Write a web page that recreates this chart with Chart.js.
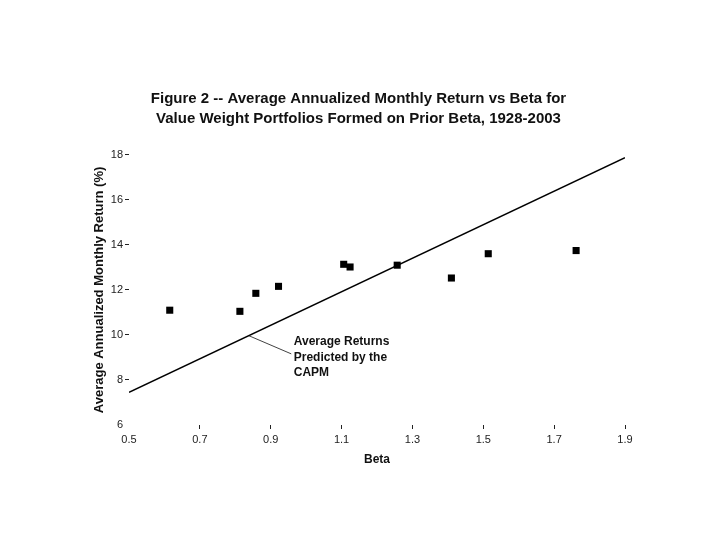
<!DOCTYPE html>
<html>
<head>
<meta charset="utf-8">
<script src="https://cdn.jsdelivr.net/npm/chart.js@4"></script>
<style>
  html, body { margin: 0; padding: 0; background: #fff; }
  #wrap { width: 720px; height: 540px; }
</style>
</head>
<body>
<div id="wrap"><canvas id="betaChart" width="720" height="540"></canvas></div>
<script>
// portfolio betas and average annualized monthly returns (%)
const betas = [0.615, 0.813, 0.858, 0.922, 1.106, 1.124, 1.257, 1.41, 1.514, 1.762];
const returns = [11.1, 11.05, 11.85, 12.16, 13.14, 13.02, 13.1, 12.53, 13.61, 13.75];

// CAPM line end points
const capmBetas = [0.5, 1.9];
const capmReturns = [7.45, 17.88];

const xTicks = [0.5, 0.7, 0.9, 1.1, 1.3, 1.5, 1.7, 1.9];
const yTicks = [6, 8, 10, 12, 14, 16, 18];

const titleLines = [
  "Figure 2 -- Average Annualized Monthly Return vs Beta for",
  "Value Weight Portfolios Formed on Prior Beta, 1928-2003"
];

// annotation for the CAPM line
const noteLines = ["Average Returns", "Predicted by the", "CAPM"];
const notePointFrom = [0.838, 9.97];
const notePointTo = [0.958, 9.16];
const noteAnchor = [0.965, 9.69];

const FONT = "'Liberation Sans', Arial, sans-serif";

const noteLabel = {
  id: "noteLabel",
  afterDatasetsDraw(chart) {
    const { ctx, scales: { x, y } } = chart;
    ctx.save();
    ctx.strokeStyle = "#111";
    ctx.lineWidth = 0.8;
    ctx.beginPath();
    ctx.moveTo(x.getPixelForValue(notePointFrom[0]), y.getPixelForValue(notePointFrom[1]));
    ctx.lineTo(x.getPixelForValue(notePointTo[0]), y.getPixelForValue(notePointTo[1]));
    ctx.stroke();

    ctx.fillStyle = "#111";
    ctx.font = "bold 12px " + FONT;
    ctx.textBaseline = "middle";
    const left = x.getPixelForValue(noteAnchor[0]);
    const top = y.getPixelForValue(noteAnchor[1]);
    noteLines.forEach((line, i) => {
      ctx.fillText(line, left, top + i * 15.5);
    });
    ctx.restore();
  }
};

const tickColor = (c) => (c.index === 0 ? "rgba(0,0,0,0)" : "#222");

new Chart(document.getElementById("betaChart"), {
  type: "scatter",
  data: {
    datasets: [
      {
        label: "Portfolios",
        data: betas.map((b, i) => ({ x: b, y: returns[i] })),
        pointStyle: "rect",
        pointRadius: 5,
        backgroundColor: "#000",
        borderColor: "#000",
        borderWidth: 0
      },
      {
        type: "line",
        label: "CAPM",
        data: capmBetas.map((b, i) => ({ x: b, y: capmReturns[i] })),
        borderColor: "#000",
        borderWidth: 1.5,
        pointRadius: 0,
        fill: false
      }
    ]
  },
  options: {
    responsive: false,
    animation: false,
    layout: { padding: { left: 92, right: 95, top: 0, bottom: 60 } },
    plugins: {
      legend: { display: false },
      tooltip: { enabled: false },
      title: {
        display: true,
        text: titleLines,
        color: "#111",
        font: { family: FONT, size: 15, weight: "bold", lineHeight: 1.33 },
        padding: { top: 89, bottom: 26 }
      }
    },
    scales: {
      x: {
        type: "linear",
        min: 0.5,
        max: 1.9,
        afterBuildTicks: (s) => { s.ticks = xTicks.map(v => ({ value: v })); },
        afterFit: (s) => { s.height = 540 - 60 - 425; },
        border: { display: false },
        grid: { drawOnChartArea: false, drawTicks: true, tickLength: 4, color: tickColor },
        ticks: {
          color: "#222",
          padding: 4,
          font: { family: FONT, size: 11 },
          callback: (v) => v.toFixed(1)
        },
        title: {
          display: true,
          text: "Beta",
          color: "#111",
          font: { family: FONT, size: 12, weight: "bold" },
          padding: { top: 0, bottom: 13 }
        }
      },
      y: {
        min: 6,
        max: 18,
        afterBuildTicks: (s) => { s.ticks = yTicks.map(v => ({ value: v })); },
        afterFit: (s) => { s.width = 129 - 92; },
        border: { display: false },
        grid: { drawOnChartArea: false, drawTicks: true, tickLength: 4, color: tickColor },
        ticks: {
          color: "#222",
          padding: 2,
          font: { family: FONT, size: 11 }
        },
        title: {
          display: true,
          text: "Average Annualized Monthly Return (%)",
          color: "#111",
          font: { family: FONT, size: 13, weight: "bold" },
          padding: { top: 0, bottom: 4 }
        }
      }
    }
  },
  plugins: [noteLabel]
});
</script>
</body>
</html>
